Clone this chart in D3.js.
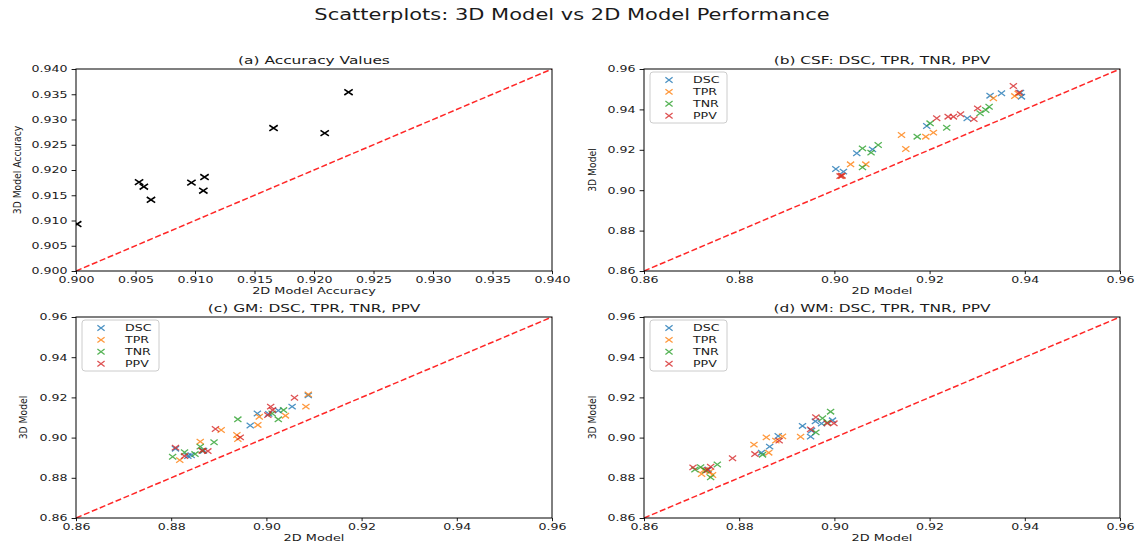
<!DOCTYPE html>
<html><head>
<meta charset="utf-8">
<script src="https://d3js.org/d3.v7.min.js"></script>
<style>
  body { margin: 0; background: white; }
  svg { font-family: "DejaVu Sans", sans-serif; }
</style>
</head>
<body>
<svg id="chart" width="1136" height="545"></svg>
<script>
// ---- data ----
// (a) accuracy, [2D, 3D]
const accPairs = [[0.9001,0.9093],[0.9053,0.9176],[0.9057,0.9167],[0.9063,0.9141],[0.9097,0.9175],
                  [0.9108,0.9186],[0.9107,0.9159],[0.9166,0.9283],[0.9209,0.9273],[0.9229,0.9354]];

// (b) CSF
const csfDSC = [[0.9003,0.9105],[0.9019,0.9092],[0.9047,0.9183],[0.9080,0.9202],[0.9194,0.9318],
                [0.9279,0.9356],[0.9327,0.9468],[0.9351,0.9480],[0.9393,0.9463],[0.9391,0.9483]];
const csfTPR = [[0.9015,0.9070],[0.9034,0.9128],[0.9066,0.9128],[0.9141,0.9273],[0.9150,0.9204],
                [0.9192,0.9265],[0.9208,0.9285],[0.9334,0.9455],[0.9379,0.9466],[0.9386,0.9478]];
const csfTNR = [[0.9059,0.9207],[0.9077,0.9186],[0.9092,0.9224],[0.9059,0.9113],[0.9174,0.9265],
                [0.9201,0.9331],[0.9236,0.9309],[0.9306,0.9381],[0.9318,0.9397],[0.9325,0.9413]];
const csfPPV = [[0.9012,0.9070],[0.9016,0.9072],[0.9215,0.9356],[0.9239,0.9364],[0.9250,0.9364],
                [0.9265,0.9376],[0.9293,0.9352],[0.9301,0.9405],[0.9376,0.9516],[0.9388,0.9483]];

// (c) GM
const gmDSC = [[0.8809,0.8945],[0.8835,0.8908],[0.8842,0.8912],[0.8868,0.8935],[0.8966,0.9060],
               [0.8981,0.9120],[0.9005,0.9118],[0.9025,0.9135],[0.9054,0.9154],[0.9088,0.9210]];
const gmTPR = [[0.8818,0.8888],[0.8861,0.8980],[0.8905,0.9038],[0.8938,0.9013],[0.8940,0.8993],
               [0.8982,0.9063],[0.8985,0.9104],[0.9040,0.9109],[0.9083,0.9154],[0.9088,0.9215]];
const gmTNR = [[0.8803,0.8905],[0.8828,0.8927],[0.8850,0.8918],[0.8861,0.8955],[0.8866,0.8935],
               [0.8890,0.8977],[0.8940,0.9091],[0.9012,0.9120],[0.9025,0.9091],[0.9036,0.9137]];
const gmPPV = [[0.8809,0.8950],[0.8828,0.8908],[0.8865,0.8935],[0.8877,0.8933],[0.8893,0.9043],
               [0.8945,0.9001],[0.9009,0.9154],[0.9013,0.9137],[0.9003,0.9112],[0.9059,0.9198]];

// (d) WM
const wmDSC = [[0.8735,0.8841],[0.8847,0.8925],[0.8864,0.8955],[0.8882,0.9008],[0.8933,0.9058],
               [0.8950,0.9005],[0.8952,0.9035],[0.8960,0.9081],[0.8973,0.9070],[0.8996,0.9086]];
const wmTPR = [[0.8721,0.8819],[0.8726,0.8839],[0.8744,0.8814],[0.8738,0.8830],[0.8831,0.8965],
               [0.8857,0.9001],[0.8862,0.8925],[0.8877,0.8985],[0.8891,0.9006],[0.8929,0.9004]];
const wmTNR = [[0.8707,0.8841],[0.8719,0.8853],[0.8730,0.8836],[0.8740,0.8802],[0.8754,0.8866],
               [0.8849,0.8915],[0.8961,0.9026],[0.8985,0.9075],[0.8975,0.9096],[0.8992,0.9129]];
const wmPPV = [[0.8703,0.8852],[0.8733,0.8839],[0.8740,0.8855],[0.8786,0.8897],[0.8833,0.8918],
               [0.8884,0.8985],[0.8950,0.9041],[0.8961,0.9101],[0.8985,0.9071],[0.8999,0.9071]];

const metricNames = ["DSC", "TPR", "TNR", "PPV"];
const metricColors = ["#1f77b4", "#ff7f0e", "#2ca02c", "#d62728"];
const accTicks = [0.900, 0.905, 0.910, 0.915, 0.920, 0.925, 0.930, 0.935, 0.940];
const segTicks = [0.86, 0.88, 0.90, 0.92, 0.94, 0.96];

// the picture is stretched sideways, so text gets a horizontal scale
const SX = 1.4;

const svg = d3.select("#chart");
svg.append("rect").attr("width", 1136).attr("height", 545).attr("fill", "white");

function stext(g, x, y, str, size, anchor) {
  return g.append("text")
    .attr("transform", `translate(${x},${y}) scale(${SX},1)`)
    .attr("text-anchor", anchor || "middle")
    .attr("dy", "0.35em")
    .attr("font-size", size)
    .attr("fill", "#1a1a1a")
    .text(str);
}

const panels = [
  {key: "a", title: "(a) Accuracy Values", left: 76, right: 552, top: 69, bottom: 271,
   domain: [0.9, 0.94], ticks: accTicks, fmt: d3.format(".3f"),
   xlabel: "2D Model Accuracy", ylabel: "3D Model Accuracy", ylabX: 17,
   series: [{data: accPairs, color: "black"}], legend: false},
  {key: "b", title: "(b) CSF: DSC, TPR, TNR, PPV", left: 644, right: 1120, top: 69, bottom: 271,
   domain: [0.86, 0.96], ticks: segTicks, fmt: d3.format(".2f"),
   xlabel: "2D Model", ylabel: "3D Model", ylabX: 592,
   series: [csfDSC, csfTPR, csfTNR, csfPPV].map((d, i) => ({data: d, color: metricColors[i]})), legend: true},
  {key: "c", title: "(c) GM: DSC, TPR, TNR, PPV", left: 76, right: 552, top: 317, bottom: 518,
   domain: [0.86, 0.96], ticks: segTicks, fmt: d3.format(".2f"),
   xlabel: "2D Model", ylabel: "3D Model", ylabX: 23,
   series: [gmDSC, gmTPR, gmTNR, gmPPV].map((d, i) => ({data: d, color: metricColors[i]})), legend: true},
  {key: "d", title: "(d) WM: DSC, TPR, TNR, PPV", left: 644, right: 1120, top: 317, bottom: 518,
   domain: [0.86, 0.96], ticks: segTicks, fmt: d3.format(".2f"),
   xlabel: "2D Model", ylabel: "3D Model", ylabX: 592,
   series: [wmDSC, wmTPR, wmTNR, wmPPV].map((d, i) => ({data: d, color: metricColors[i]})), legend: true}
];

function xMark(g, x, y, hw, hh) {
  return g.append("path").attr("d", `M${x-hw},${y-hh}L${x+hw},${y+hh}M${x-hw},${y+hh}L${x+hw},${y-hh}`);
}

panels.forEach(p => {
  const x = d3.scaleLinear().domain(p.domain).range([p.left, p.right]);
  const y = d3.scaleLinear().domain(p.domain).range([p.bottom, p.top]);
  const g = svg.append("g");

  g.append("clipPath").attr("id", "clip-" + p.key)
    .append("rect").attr("x", p.left).attr("y", p.top)
    .attr("width", p.right - p.left).attr("height", p.bottom - p.top);

  // y = x reference line
  g.append("line")
    .attr("x1", x(p.domain[0])).attr("y1", y(p.domain[0]))
    .attr("x2", x(p.domain[1])).attr("y2", y(p.domain[1]))
    .attr("stroke", "red").attr("stroke-opacity", 0.85)
    .attr("stroke-width", 1.5).attr("stroke-dasharray", "6,2.6")
    .attr("clip-path", `url(#clip-${p.key})`);

  // points
  const pts = g.append("g").attr("clip-path", `url(#clip-${p.key})`);
  p.series.forEach(s => {
    const sg = pts.append("g").attr("stroke", s.color).attr("fill", "none");
    if (p.legend) sg.attr("stroke-width", 1.3).attr("stroke-opacity", 0.8);
    else sg.attr("stroke-width", 1.6);
    s.data.forEach(d => {
      if (p.legend) xMark(sg, x(d[0]), y(d[1]), 3.6, 2.7);
      else xMark(sg, x(d[0]), y(d[1]), 4.2, 2.8);
    });
  });

  // axes
  const xAxis = g.append("g").attr("transform", `translate(0,${p.bottom})`)
    .call(d3.axisBottom(x).tickValues(p.ticks).tickFormat(p.fmt).tickSize(3.2).tickPadding(2.5).tickSizeOuter(0));
  const yAxis = g.append("g").attr("transform", `translate(${p.left},0)`)
    .call(d3.axisLeft(y).tickValues(p.ticks).tickFormat(p.fmt).tickSize(4.4).tickPadding(4).tickSizeOuter(0));
  [xAxis, yAxis].forEach(a => {
    a.select(".domain").remove();
    a.selectAll("line").attr("stroke", "black").attr("stroke-width", 0.9);
    a.selectAll("text").attr("font-size", 9).attr("fill", "#1a1a1a")
      .attr("font-family", "DejaVu Sans");
  });
  xAxis.selectAll("text").attr("transform", `scale(${SX},1)`);
  yAxis.selectAll("text").attr("transform", `scale(${SX},1)`).attr("x", -8.4 / SX);

  // frame
  g.append("rect").attr("x", p.left).attr("y", p.top)
    .attr("width", p.right - p.left).attr("height", p.bottom - p.top)
    .attr("fill", "none").attr("stroke", "black").attr("stroke-width", 1);

  // labels
  stext(g, (p.left + p.right) / 2, p.top - 9, p.title, 11);
  stext(g, (p.left + p.right) / 2, p.bottom + 19.5, p.xlabel, 9.2);
  g.append("text")
    .attr("transform", `translate(${p.ylabX},${(p.top + p.bottom) / 2}) scale(${SX * 0.85},1) rotate(-90)`)
    .attr("text-anchor", "middle").attr("dy", "0.35em")
    .attr("font-size", 9.2).attr("fill", "#1a1a1a").text(p.ylabel);

  // legend
  if (p.legend) {
    const lg = g.append("g");
    lg.append("rect").attr("x", p.left + 6).attr("y", p.top + 3)
      .attr("width", 77).attr("height", 51).attr("rx", 3)
      .attr("fill", "white").attr("fill-opacity", 0.8)
      .attr("stroke", "#cccccc").attr("stroke-width", 1);
    metricNames.forEach((name, i) => {
      const ry = p.top + 11 + i * 11.9;
      xMark(lg.append("g").attr("stroke", metricColors[i]).attr("stroke-opacity", 0.8)
        .attr("stroke-width", 1.3).attr("fill", "none"), p.left + 25, ry, 3.6, 2.7);
      stext(lg, p.left + 49, ry, name, 9, "start");
    });
  }
});

stext(svg, 572, 15, "Scatterplots: 3D Model vs 2D Model Performance", 15);
</script>
</body>
</html>
